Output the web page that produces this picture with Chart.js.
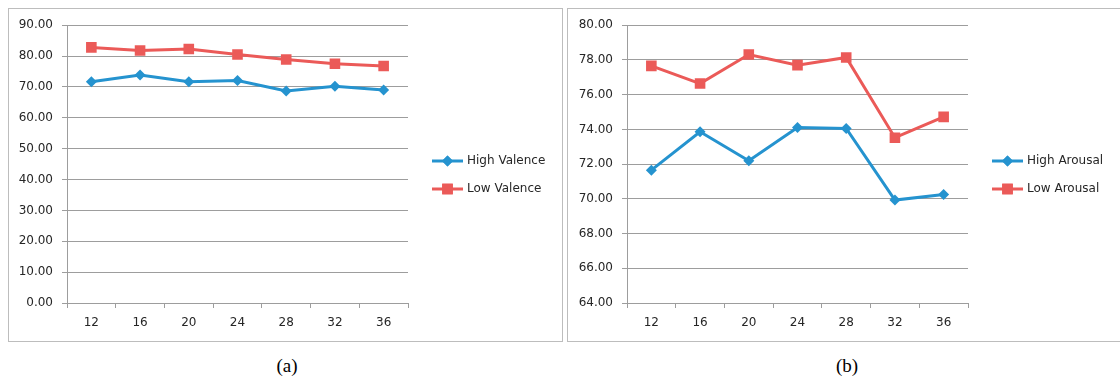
<!DOCTYPE html>
<html>
<head>
<meta charset="utf-8">
<script src="https://cdn.jsdelivr.net/npm/chart.js@4/dist/chart.umd.min.js"></script>
<style>
  html, body { margin: 0; padding: 0; background: #fff; width: 1120px; height: 377px; overflow: hidden; position: relative; }
  .panel { position: absolute; top: 8px; height: 332px; border: 1px solid #bdbdbd; background: #fff; }
  #panelA { left: 8px; width: 553px; }
  #panelB { left: 567px; width: 560px; }
  .panel canvas { position: absolute; left: 0; top: 0; }
  .caption { position: absolute; top: 355px; width: 60px; text-align: center; font: 19px "Liberation Serif", "Times New Roman", serif; color: #000; }
</style>
</head>
<body>
<div class="panel" id="panelA"><canvas id="chartA" width="553" height="332" style="width:553px;height:332px"></canvas></div>
<div class="panel" id="panelB"><canvas id="chartB" width="553" height="332" style="width:553px;height:332px"></canvas></div>
<div class="caption" style="left:257px">(a)</div>
<div class="caption" style="left:817px">(b)</div>
<script>
// Segment lengths (weeks) on the category axis
const weeks = ['12', '16', '20', '24', '28', '32', '36'];

// Accuracy (%) per segment length
const highValence = [71.7, 73.9, 71.7, 72.1, 68.7, 70.2, 69.0];
const lowValence  = [82.8, 81.8, 82.3, 80.5, 78.9, 77.5, 76.8];
const highArousal = [71.65, 73.86, 72.19, 74.11, 74.05, 69.93, 70.25];
const lowArousal  = [77.66, 76.64, 78.31, 77.70, 78.14, 73.52, 74.72];

// Value-axis ranges
const valenceAxis = { min: 0, max: 90, step: 10 };
const arousalAxis = { min: 64, max: 80, step: 2 };

const BLUE = '#2593cf';
const RED = '#eb5a58';
const GRID = '#9d9d9d';
const TEXT = '#262626';
const FONT = 'DejaVu Sans';

// Legend drawn to the right of the plot: short line with the series marker
const sideLegend = {
  id: 'sideLegend',
  afterDraw(chart) {
    const ctx = chart.ctx;
    const x0 = chart.chartArea.right + 24;
    const midY = chart.height / 2;
    const rows = chart.data.datasets.length;
    chart.data.datasets.forEach((ds, i) => {
      const y = midY + (i - (rows - 1) / 2) * 28;
      ctx.save();
      ctx.strokeStyle = ds.borderColor;
      ctx.lineWidth = ds.borderWidth;
      ctx.beginPath();
      ctx.moveTo(x0, y);
      ctx.lineTo(x0 + 31, y);
      ctx.stroke();
      ctx.fillStyle = ds.pointBackgroundColor;
      Chart.helpers.drawPoint(ctx, {
        pointStyle: ds.pointStyle,
        radius: ds.pointRadius,
        borderWidth: 0,
        rotation: 0
      }, x0 + 15.5, y);
      ctx.fill();
      ctx.fillStyle = TEXT;
      ctx.font = '12px "' + FONT + '"';
      ctx.textAlign = 'left';
      ctx.textBaseline = 'middle';
      ctx.fillText(ds.label, x0 + 35, y);
      ctx.restore();
    });
  }
};

function series(label, values, color, style, radius) {
  return {
    label: label,
    data: values,
    borderColor: color,
    backgroundColor: color,
    borderWidth: 3,
    tension: 0,
    pointStyle: style,
    pointRadius: radius,
    pointHoverRadius: radius,
    pointBackgroundColor: color,
    pointBorderColor: color,
    pointBorderWidth: 0
  };
}

function makeChart(id, data, axis, axisWidth) {
  return new Chart(document.getElementById(id), {
    type: 'line',
    data: { labels: weeks, datasets: data },
    plugins: [sideLegend],
    options: {
      responsive: false,
      animation: false,
      events: [],
      layout: { padding: { left: 0, top: 16, right: 553 - axisWidth - 341, bottom: 0 } },
      plugins: { legend: { display: false }, tooltip: { enabled: false } },
      scales: {
        x: {
          type: 'category',
          offset: true,
          afterFit(s) { s.height = 38; },
          grid: {
            offset: true,
            drawOnChartArea: false,
            drawTicks: true,
            tickLength: 5,
            color: GRID,
            lineWidth: 1
          },
          border: { display: true, color: GRID, width: 1 },
          ticks: { color: TEXT, padding: 8, font: { family: FONT, size: 12 }, maxRotation: 0, autoSkip: false }
        },
        y: {
          min: axis.min,
          max: axis.max,
          afterFit(s) { s.width = axisWidth; },
          grid: { color: GRID, lineWidth: 1, tickLength: 5, drawTicks: true },
          border: { display: true, color: GRID, width: 1 },
          ticks: {
            stepSize: axis.step,
            color: TEXT,
            padding: 9,
            font: { family: FONT, size: 12 },
            callback: v => Number(v).toFixed(2)
          }
        }
      }
    }
  });
}

makeChart('chartA', [
  series('High Valence', highValence, BLUE, 'rectRot', 5.5),
  series('Low Valence', lowValence, RED, 'rect', 7.5)
], valenceAxis, 58);

makeChart('chartB', [
  series('High Arousal', highArousal, BLUE, 'rectRot', 5.5),
  series('Low Arousal', lowArousal, RED, 'rect', 7.5)
], arousalAxis, 59);
</script>
</body>
</html>
